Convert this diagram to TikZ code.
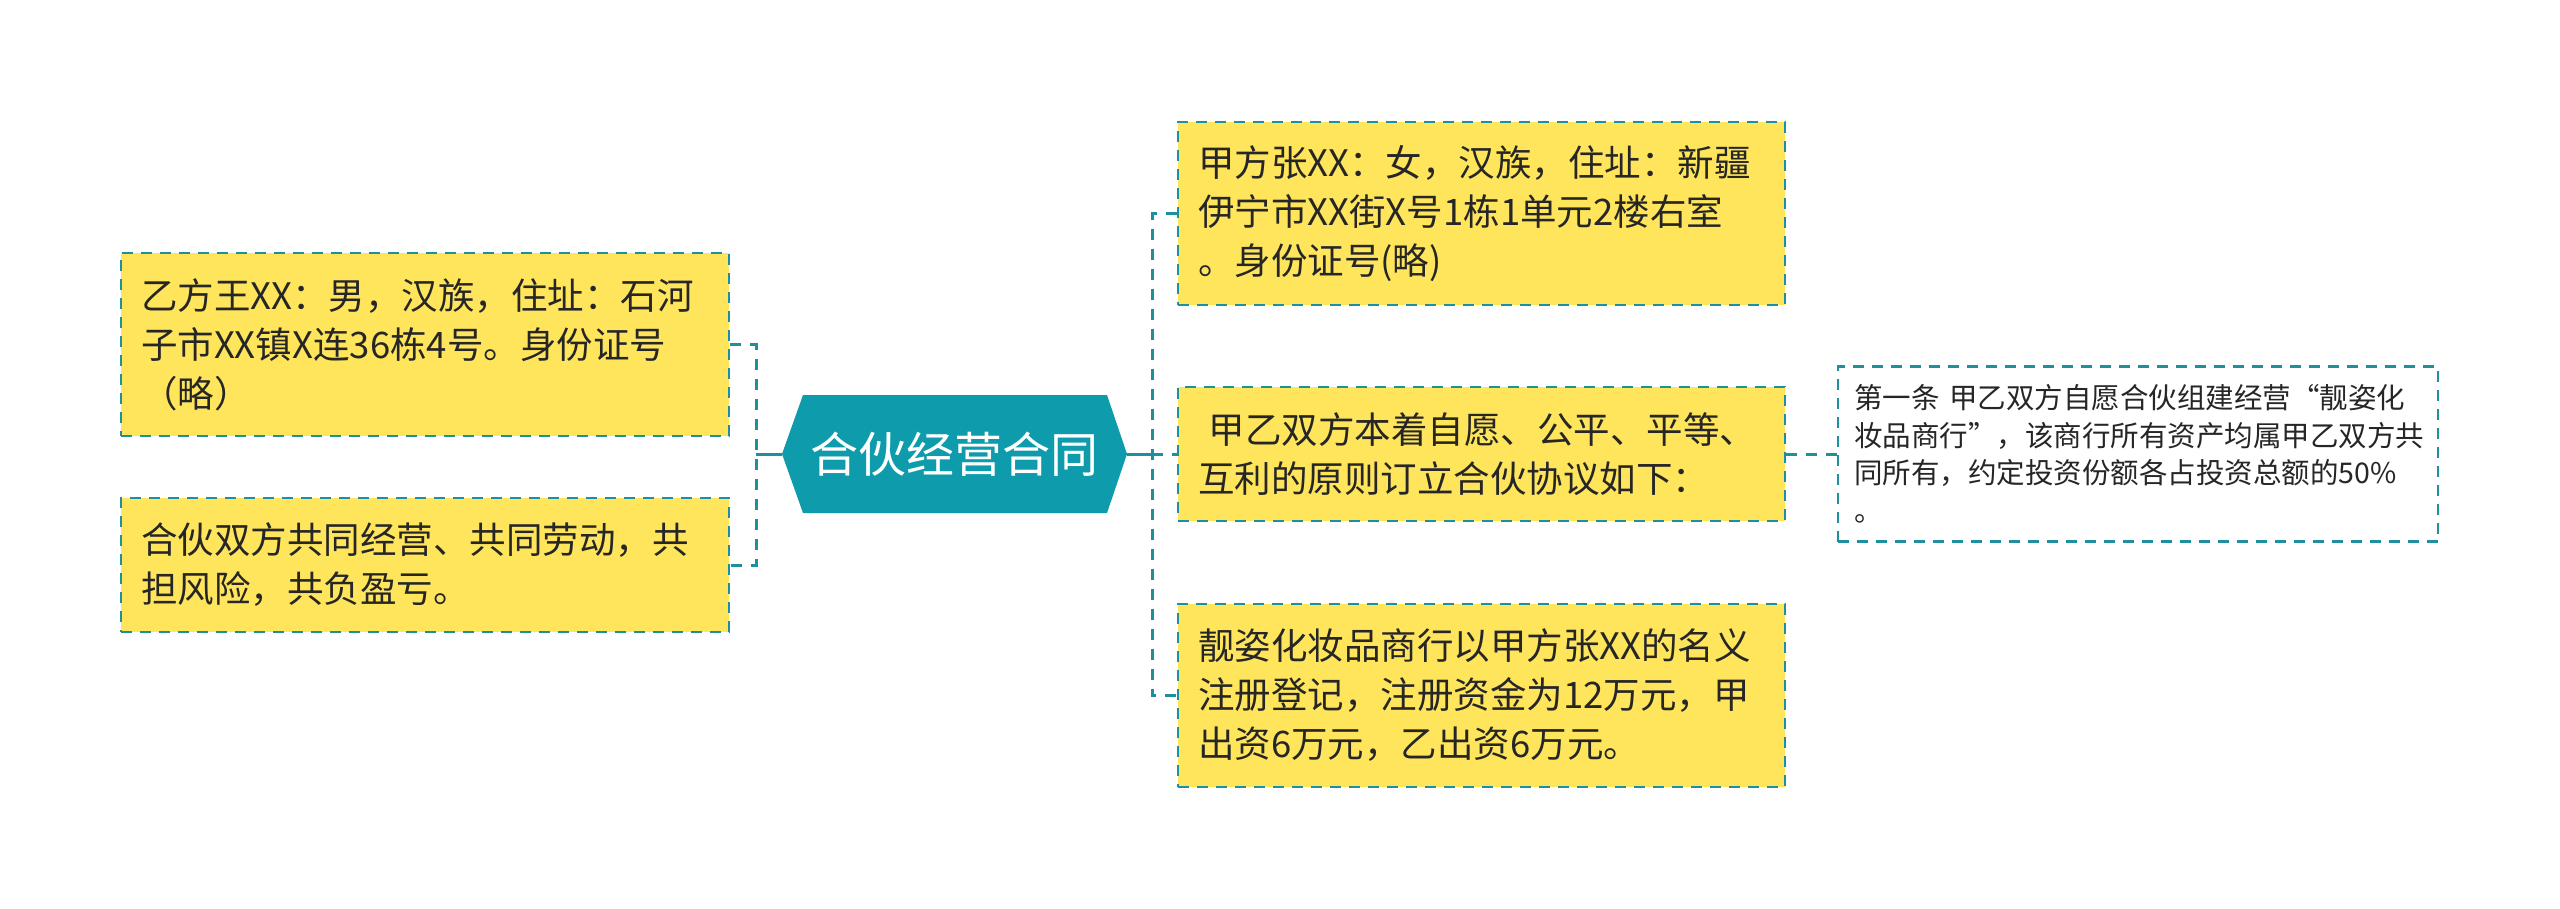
\documentclass[tikz,border=0pt]{standalone}
\usepackage{fontspec}
\setmainfont{Noto Sans CJK SC}
\definecolor{yel}{HTML}{FFE55C}
\definecolor{bord}{HTML}{1E8F9C}
\definecolor{hexfill}{HTML}{0E9BAB}
\definecolor{txt}{HTML}{262626}
\tikzset{
  box/.style={draw=bord, fill=yel, line width=2.5pt, dash pattern=on 11pt off 8pt,
    inner xsep=20pt, inner ysep=0pt, align=left, text=txt,
    font=\fontsize{36.5}{49}\selectfont},
  wbox/.style={draw=bord, fill=white, line width=2.2pt, dash pattern=on 11pt off 8pt,
    inner xsep=16pt, inner ysep=0pt, align=left, text=txt,
    font=\fontsize{28.5}{37.5}\selectfont},
  conn/.style={draw=bord, line width=3pt, dash pattern=on 11pt off 9pt},
  trunk/.style={draw=bord, line width=3pt},
}
\begin{document}
\begin{tikzpicture}[x=1pt,y=-1pt]
\useasboundingbox (0,0) rectangle (2560,909);
\fill[white] (0,0) rectangle (2560,909);

% centre hexagon
\coordinate (cw) at (782,454);
\coordinate (ce) at (1127,454);
\fill[hexfill] (cw) -- (803,395) -- (1107,395) -- (ce) -- (1107,513) -- (803,513) -- cycle;
\node[text=white, font=\fontsize{48}{56}\selectfont, inner sep=0pt] (c) at (954,454) {合伙经营合同};

% left boxes
\node[box, text width=568pt, minimum height=183pt] (L1) at (425,344.5)
  {乙方王XX：男，汉族，住址：石河\\子市XX镇X连36栋4号。身份证号\\（略）};
\node[box, text width=568pt, minimum height=134pt] (L2) at (425,565)
  {合伙双方共同经营、共同劳动，共\\担风险，共负盈亏。};

% right boxes
\node[box, text width=567pt, minimum height=183pt] (R1) at (1481.5,213.5)
  {甲方张XX：女，汉族，住址：新疆\\伊宁市XX街X号1栋1单元2楼右室\\。身份证号(略)};
\node[box, text width=567pt, minimum height=134pt] (R2) at (1481.5,454)
  {\hspace*{0.3em}甲乙双方本着自愿、公平、平等、\\互利的原则订立合伙协议如下：};
\node[box, text width=567pt, minimum height=183pt] (R3) at (1481.5,695.5)
  {靓姿化妆品商行以甲方张XX的名义\\注册登记，注册资金为12万元，甲\\出资6万元，乙出资6万元。};

% far right box
\node[wbox, text width=568pt, minimum height=175pt] (FR) at (2138,454)
  {第一条 甲乙双方自愿合伙组建经营“靓姿化\\妆品商行”，该商行所有资产均属甲乙双方共\\同所有，约定投资份额各占投资总额的50\%\\。};

% connectors
\coordinate (lt) at (756,454);
\coordinate (rt) at (1152,454);
\draw[trunk] (cw) -- (lt);
\draw[conn] (L1.east) -| (lt) |- (L2.east);
\draw[trunk] (ce) -- (rt);
\draw[conn] (R1.west) -| (rt) |- (R3.west);
\draw[conn] (rt) -- (R2.west);
\draw[conn] (R2.east) -- (FR.west);
\end{tikzpicture}
\end{document}
